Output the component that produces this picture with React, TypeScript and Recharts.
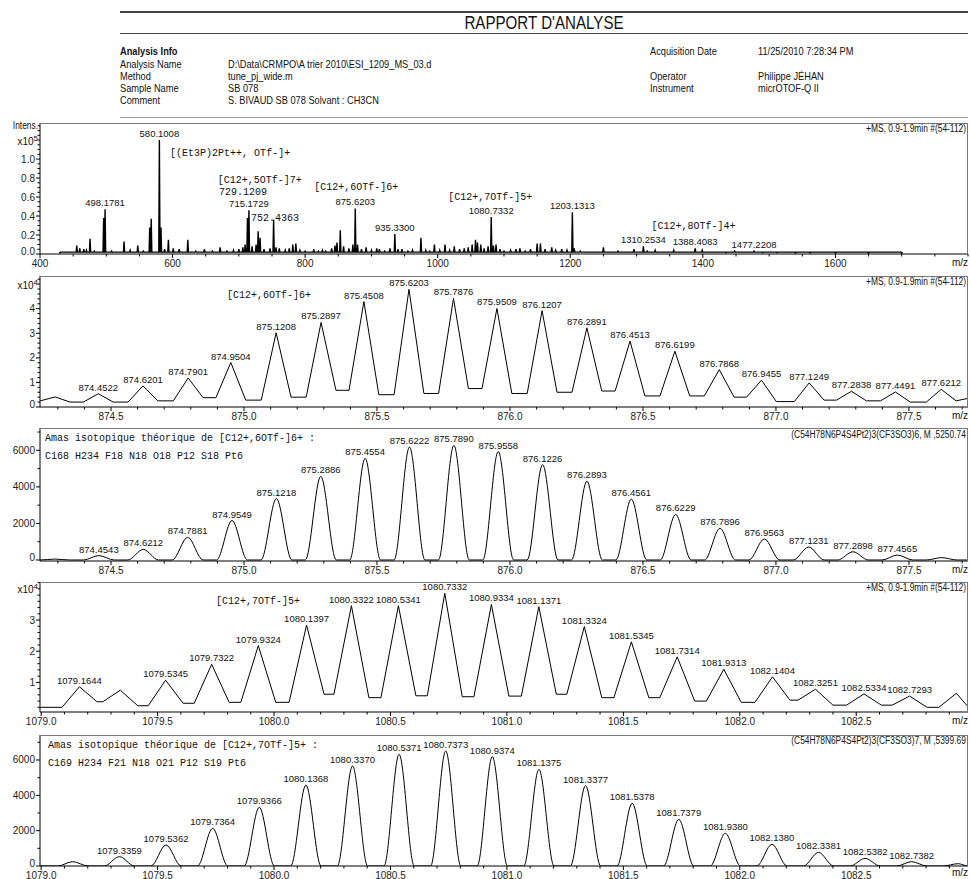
import React from 'react';
import { ComposedChart, Line, Scatter, XAxis, YAxis } from 'recharts';

const SANS = '"Liberation Sans", Arial, sans-serif';
const MONO = '"Liberation Mono", "Courier New", monospace';

// ---------------- Header ----------------
const infoLeft: [string, string][] = [
  ['Analysis Name', 'D:\\Data\\CRMPO\\A trier 2010\\ESI_1209_MS_03.d'],
  ['Method', 'tune_pj_wide.m'],
  ['Sample Name', 'SB 078'],
  ['Comment', 'S. BIVAUD SB 078 Solvant : CH3CN'],
];
const infoRight: [string, string, number][] = [
  ['Acquisition Date', '11/25/2010 7:28:34 PM', 0],
  ['Operator', 'Philippe JÉHAN', 2],
  ['Instrument', 'micrOTOF-Q II', 3],
];

// ---------------- Panel 1 : full spectrum (x10^5) ----------------
const surveyMz = [
  430, 455.5, 460, 466, 470, 475.5, 482, 496, 498.1781, 508, 515, 526.8, 536, 547.5, 556,
  565.5, 567.8, 580.1008, 582.5, 588, 593.7, 601, 610, 623, 635, 648, 660, 671.7, 682, 691.8,
  700, 706, 709.5, 713, 715.1729, 720, 726, 729.1209, 732, 738, 747, 752.4363, 756, 761, 770,
  776, 781.4, 786, 792, 800, 813, 820, 826, 831, 840, 845, 848, 853, 858, 866, 872, 875.6203,
  879, 885, 892, 900, 908, 912, 920, 928, 935.33, 940, 946, 955, 962, 974.7, 982, 988, 995,
  1003, 1011, 1018, 1025, 1033, 1040, 1046, 1052, 1057, 1060, 1065, 1070, 1076, 1080.7332,
  1084, 1088, 1094, 1100, 1110, 1118, 1124, 1132, 1140, 1150, 1155, 1162, 1172, 1178, 1187,
  1195, 1203.1313, 1206, 1215, 1225, 1235, 1250, 1260, 1272, 1283, 1296, 1310.2534, 1316,
  1328, 1340, 1356, 1365, 1376, 1388.4083, 1399, 1410, 1425, 1435, 1448, 1462, 1477.2208,
  1490, 1512, 1540, 1562, 1600, 1650, 1700,
];
const surveyInt = [
  0.012, 0.09, 0.06, 0.05, 0.04, 0.16, 0.03, 0.38, 0.47, 0.03, 0.02, 0.13, 0.04, 0.09, 0.03,
  0.28, 0.37, 1.2, 0.28, 0.05, 0.15, 0.06, 0.05, 0.15, 0.03, 0.05, 0.03, 0.07, 0.03, 0.04,
  0.05, 0.07, 0.1, 0.38, 0.46, 0.08, 0.1, 0.24, 0.17, 0.05, 0.06, 0.36, 0.07, 0.06, 0.04,
  0.06, 0.1, 0.11, 0.04, 0.03, 0.05, 0.03, 0.04, 0.03, 0.06, 0.09, 0.12, 0.25, 0.08, 0.06, 0.1, 0.48,
  0.1, 0.05, 0.07, 0.04, 0.06, 0.05, 0.03, 0.06, 0.21, 0.05, 0.05, 0.03, 0.04, 0.17, 0.04, 0.03, 0.1,
  0.04, 0.1, 0.04, 0.08, 0.05, 0.06, 0.07, 0.1, 0.15, 0.12, 0.1, 0.06, 0.08, 0.39,
  0.09, 0.1, 0.05, 0.03, 0.04, 0.05, 0.06, 0.03, 0.05, 0.11, 0.11, 0.05, 0.07, 0.04, 0.05,
  0.04, 0.44, 0.06, 0.03, 0.02, 0.02, 0.07, 0.02, 0.03, 0.02, 0.05, 0.08, 0.03,
  0.04, 0.02, 0.04, 0.02, 0.02, 0.06, 0.04, 0.02, 0.02, 0.015, 0.03, 0.02, 0.03,
  0.015, 0.015, 0.01, 0.01, 0.008, 0.006, 0.005,
];
const surveyLabelMz = [498.1781, 580.1008, 715.1729, 875.6203, 935.33, 1080.7332, 1203.1313, 1310.2534, 1388.4083, 1477.2208];
const surveyNotes = ['[(Et3P)2Pt++, OTf-]+', '[C12+,5OTf-]7+', '729.1209', '752.4363', '[C12+,6OTf-]6+', '[C12+,7OTf-]5+', '[C12+,8OTf-]4+'];
const surveyNoteMz = [596.3, 668, 670, 718.5, 813.6, 1016, 1322.4];
const surveyNoteInt = [1.034, 0.745, 0.62, 0.346, 0.672, 0.572, 0.268];
const surveyXTicks = [400, 600, 800, 1000, 1200, 1400, 1600];
const surveyYTicks = [0, 0.2, 0.4, 0.6, 0.8, 1.0];

// ---------------- Panel 2 : measured 6+ cluster (x10^4) ----------------
const exp6Mz = [874.29, 874.4522, 874.6201, 874.7901, 874.9504, 875.1208, 875.2897, 875.4508, 875.6203, 875.7876, 875.9509, 876.1207, 876.2891, 876.4513, 876.6199, 876.7868, 876.9455, 877.1249, 877.2838, 877.4491, 877.6212];
const exp6Int = [0.41, 0.54, 0.86, 1.18, 1.81, 3.02, 3.44, 4.29, 4.79, 4.42, 4.01, 3.92, 3.22, 2.68, 2.27, 1.52, 1.09, 0.98, 0.64, 0.61, 0.72];
const exp6Valleys = [0.25, 0.2, 0.2, 0.25, 0.38, 0.28, 0.4, 0.68, 0.5, 0.55, 0.75, 0.55, 0.6, 0.65, 0.45, 0.45, 0.4, 0.22, 0.28, 0.25, 0.2, 0.25];
const exp6Edges = [0.25, 0.35];
const exp6Labels = ['', '874.4522', '874.6201', '874.7901', '874.9504', '875.1208', '875.2897', '875.4508', '875.6203', '875.7876', '875.9509', '876.1207', '876.2891', '876.4513', '876.6199', '876.7868', '876.9455', '877.1249', '877.2838', '877.4491', '877.6212'];
const exp6Note = '[C12+,6OTf-]6+';
const exp6NoteMz = 874.936;
const exp6NoteInt = 4.45;
const cluster6XTicks = [874.5, 875.0, 875.5, 876.0, 876.5, 877.0, 877.5];
const exp6YTicks = [0, 1, 2, 3, 4];

// ---------------- Panel 3 : theoretical 6+ cluster ----------------
const th6Mz = [874.288, 874.4543, 874.6212, 874.7881, 874.9549, 875.1218, 875.2886, 875.4554, 875.6222, 875.789, 875.9558, 876.1226, 876.2893, 876.4561, 876.6229, 876.7896, 876.9563, 877.1231, 877.2898, 877.4565, 877.623];
const th6Int = [50, 240, 580, 1240, 2160, 3360, 4580, 5560, 6180, 6270, 5930, 5220, 4310, 3330, 2490, 1730, 1150, 710, 450, 270, 130];
const th6Labels = ['', '874.4543', '874.6212', '874.7881', '874.9549', '875.1218', '875.2886', '875.4554', '875.6222', '875.7890', '875.9558', '876.1226', '876.2893', '876.4561', '876.6229', '876.7896', '876.9563', '877.1231', '877.2898', '877.4565', ''];
const th6Title = 'Amas isotopique théorique de [C12+,6OTf-]6+ :';
const th6Formula = 'C168 H234 F18 N18 O18 P12 S18 Pt6';
const th6Info = '(C54H78N6P4S4Pt2)3(CF3SO3)6, M ,5250.74';
const thYTicks = [0, 2000, 4000, 6000];

// ---------------- Panel 4 : measured 5+ cluster (x10^4) ----------------
const exp5Mz = [1079.1644, 1079.34, 1079.5345, 1079.7322, 1079.9324, 1080.1397, 1080.3322, 1080.5341, 1080.7332, 1080.9334, 1081.1371, 1081.3324, 1081.5345, 1081.7314, 1081.9313, 1082.1404, 1082.3251, 1082.5334, 1082.7293, 1082.93];
const exp5Int = [0.86, 0.75, 1.07, 1.58, 2.18, 2.84, 3.46, 3.46, 3.86, 3.5, 3.43, 2.79, 2.3, 1.82, 1.42, 1.18, 0.78, 0.63, 0.56, 0.65];
const exp5Valleys = [0.2, 0.38, 0.25, 0.33, 0.36, 0.36, 0.62, 0.51, 0.57, 0.54, 0.56, 0.62, 0.51, 0.51, 0.4, 0.36, 0.43, 0.27, 0.27, 0.2, 0.22];
const exp5Edges = [0.2, 0.22];
const exp5Labels = ['1079.1644', '', '1079.5345', '1079.7322', '1079.9324', '1080.1397', '1080.3322', '1080.5341', '1080.7332', '1080.9334', '1081.1371', '1081.3324', '1081.5345', '1081.7314', '1081.9313', '1082.1404', '1082.3251', '1082.5334', '1082.7293', ''];
const exp5Note = '[C12+,7OTf-]5+';
const exp5NoteMz = 1079.751;
const exp5NoteInt = 3.53;
const cluster5XTicks = [1079.0, 1079.5, 1080.0, 1080.5, 1081.0, 1081.5, 1082.0, 1082.5];
const exp5YTicks = [1, 2, 3];

// ---------------- Panel 5 : theoretical 5+ cluster ----------------
const th5Mz = [1079.136, 1079.3359, 1079.5362, 1079.7364, 1079.9366, 1080.1368, 1080.337, 1080.5371, 1080.7373, 1080.9374, 1081.1375, 1081.3377, 1081.5378, 1081.7379, 1081.938, 1082.138, 1082.3381, 1082.5382, 1082.7382, 1082.938];
const th5Int = [245, 528, 1190, 2130, 3320, 4585, 5660, 6320, 6510, 6190, 5470, 4550, 3550, 2640, 1850, 1230, 770, 430, 245, 130];
const th5Labels = ['', '1079.3359', '1079.5362', '1079.7364', '1079.9366', '1080.1368', '1080.3370', '1080.5371', '1080.7373', '1080.9374', '1081.1375', '1081.3377', '1081.5378', '1081.7379', '1081.9380', '1082.1380', '1082.3381', '1082.5382', '1082.7382', ''];
const th5Title = 'Amas isotopique théorique de [C12+,7OTf-]5+ :';
const th5Formula = 'C169 H234 F21 N18 O21 P12 S19 Pt6';
const th5Info = '(C54H78N6P4S4Pt2)3(CF3SO3)7, M ,5399.69';

const msInfo = '+MS, 0.9-1.9min #(54-112)';

// ---------------- helpers ----------------
type Pt = { x: number; y: number; label?: string; mono?: boolean };

function stickProfile(mz: number[], inten: number[], base: number, hw: number): Pt[] {
  const pts: Pt[] = [];
  mz.forEach((m, i) => {
    pts.push({ x: m - hw, y: base }, { x: m, y: inten[i] }, { x: m + hw, y: base });
  });
  return pts;
}

function triProfile(mz: number[], inten: number[], valleys: number[], edges: number[], hw: number, dom: [number, number]): Pt[] {
  const pts: Pt[] = [{ x: dom[0], y: edges[0] }];
  mz.forEach((m, i) => {
    pts.push({ x: m - hw, y: valleys[i] }, { x: m, y: inten[i] }, { x: m + hw, y: valleys[i + 1] });
  });
  pts.push({ x: dom[1], y: edges[1] });
  return pts.sort((a, b) => a.x - b.x);
}

function bellProfile(mz: number[], inten: number[], hw: number, dom: [number, number]): Pt[] {
  const pts: Pt[] = [{ x: dom[0], y: 0 }];
  mz.forEach((m, i) => {
    pts.push({ x: m - hw, y: 0 }, { x: m, y: inten[i] }, { x: m + hw, y: 0 });
  });
  pts.push({ x: dom[1], y: 0 });
  return pts.sort((a, b) => a.x - b.x);
}

function peakLabels(mz: number[], inten: number[], labels: string[]): Pt[] {
  return mz.map((m, i) => ({ x: m, y: inten[i], label: labels[i] })).filter((p) => p.label);
}

function range(a: number, b: number, step: number): number[] {
  const out: number[] = [];
  const n = Math.round((b - a) / step);
  for (let i = 0; i <= n; i++) out.push(Math.round((a + i * step) * 10000) / 10000);
  return out;
}

function mergeTicks(major: number[], minor: number[]): number[] {
  const all = [...major];
  minor.forEach((v) => {
    if (!all.some((m) => Math.abs(m - v) < 1e-6)) all.push(v);
  });
  return all.sort((a, b) => a - b);
}

const isIn = (arr: number[], v: number) => arr.some((m) => Math.abs(m - v) < 1e-6);

const makeXTick = (major: number[], fmt: (v: number) => string) => (props: any) => {
  const { x, y, payload } = props;
  const v = payload.value;
  const maj = isIn(major, v);
  return (
    <g>
      <line x1={x} x2={x} y1={y} y2={y + (maj ? 4 : 2.5)} stroke="#000" strokeWidth={1} />
      {maj && (
        <text x={x} y={y + 12.5} textAnchor="middle" fontSize={10} fontFamily={SANS} fill="#222">
          {fmt(v)}
        </text>
      )}
    </g>
  );
};

const makeYTick = (major: number[], fmt: (v: number) => string, lowest: number) => (props: any) => {
  const { x, y, payload } = props;
  const v = payload.value;
  const maj = isIn(major, v);
  const dy = Math.abs(v - lowest) < 1e-6 ? 1 : 3.5;
  return (
    <g>
      <line x1={x - (maj ? 4 : 2.5)} x2={x} y1={y} y2={y} stroke="#000" strokeWidth={1} />
      {maj && (
        <text x={x - 5} y={y + dy} textAnchor="end" fontSize={10} fontFamily={SANS} fill="#222">
          {fmt(v)}
        </text>
      )}
    </g>
  );
};

const LabelShape = (props: any) => {
  const { cx, cy, payload } = props;
  if (cx == null || cy == null || !payload?.label) return <g />;
  if (payload.mono) {
    return (
      <text x={cx} y={cy} textAnchor="start" fontSize={10} fontFamily={MONO} fill="#111">
        {payload.label}
      </text>
    );
  }
  return (
    <text x={cx} y={cy - 3} textAnchor="middle" fontSize={9.5} fontFamily={SANS} fill="#111">
      {payload.label}
    </text>
  );
};

type PanelProps = {
  top: number;
  bottom: number;
  xDom: [number, number];
  yDom: [number, number];
  xTicks: number[];
  xMinor: number[];
  xFmt: (v: number) => string;
  yTicks: number[];
  yMinor: number[];
  yFmt: (v: number) => string;
  profile: Pt[];
  curve: 'linear' | 'monotone';
  labels: Pt[];
  strokeWidth?: number;
};

const PAD_T = 12;
const PAD_B = 24;

function Panel(p: PanelProps) {
  const h = p.bottom - p.top + PAD_T + PAD_B;
  return (
    <div style={{ position: 'absolute', left: 0, top: p.top - PAD_T }}>
      <ComposedChart width={970} height={h} margin={{ top: PAD_T, right: 2, bottom: PAD_B - 1, left: 39 }}>
        <XAxis
          type="number"
          dataKey="x"
          domain={p.xDom}
          allowDataOverflow
          ticks={mergeTicks(p.xTicks, p.xMinor)}
          interval={0}
          tick={makeXTick(p.xTicks, p.xFmt)}
          tickLine={false}
          tickSize={0}
          tickMargin={0}
          height={1}
          axisLine={{ stroke: '#000' }}
        />
        <YAxis
          type="number"
          dataKey="y"
          domain={p.yDom}
          allowDataOverflow
          ticks={mergeTicks(p.yTicks, p.yMinor)}
          interval={0}
          tick={makeYTick(p.yTicks, p.yFmt, p.yTicks[0] <= p.yDom[0] + 1e-6 || p.yTicks[0] === 0 ? p.yTicks[0] : NaN)}
          tickLine={false}
          tickSize={0}
          tickMargin={0}
          width={1}
          axisLine={{ stroke: '#000' }}
        />
        <Line
          data={p.profile}
          dataKey="y"
          type={p.curve}
          stroke="#000"
          strokeWidth={p.strokeWidth ?? 1}
          dot={false}
          activeDot={false}
          isAnimationActive={false}
        />
        <Scatter data={p.labels} dataKey="y" shape={LabelShape} isAnimationActive={false} />
      </ComposedChart>
      <div
        style={{
          position: 'absolute',
          left: 40,
          top: PAD_T,
          width: 970 - 42,
          height: p.bottom - p.top,
          borderTop: '1px solid #777',
          borderRight: '1px solid #777',
          boxSizing: 'border-box',
          pointerEvents: 'none',
        }}
      />
    </div>
  );
}

function Txt(props: {
  x: number;
  y: number;
  children: React.ReactNode;
  size?: number;
  font?: string;
  align?: 'left' | 'right';
  bold?: boolean;
  narrow?: boolean;
}) {
  const size = props.size ?? 10;
  const style: React.CSSProperties = {
    position: 'absolute',
    top: props.y - size * 0.6,
    fontSize: size,
    lineHeight: `${size * 1.2}px`,
    fontFamily: props.font ?? SANS,
    fontWeight: props.bold ? 'bold' : 'normal',
    color: '#111',
    whiteSpace: 'nowrap',
  };
  if (props.narrow) {
    style.transform = 'scaleX(0.84)';
    style.transformOrigin = props.align === 'right' ? 'right center' : 'left center';
  }
  if (props.align === 'right') style.right = 970 - props.x;
  else style.left = props.x;
  return <div style={style}>{props.children}</div>;
}

export default function App() {
  const d1: [number, number] = [400, 1800];
  const d6: [number, number] = [874.233, 877.722];
  const d5: [number, number] = [1078.995, 1082.98];

  const surveyLabels: Pt[] = [
    ...surveyLabelMz.map((m) => {
      const idx = surveyMz.findIndex((v) => Math.abs(v - m) < 1e-6);
      return { x: m, y: surveyInt[idx], label: m.toFixed(4) };
    }),
    ...surveyNotes.map((t, i) => ({ x: surveyNoteMz[i], y: surveyNoteInt[i], label: t, mono: true })),
  ];

  const exp6LabelPts: Pt[] = [
    ...peakLabels(exp6Mz, exp6Int, exp6Labels),
    { x: exp6NoteMz, y: exp6NoteInt, label: exp6Note, mono: true },
  ];
  const exp5LabelPts: Pt[] = [
    ...peakLabels(exp5Mz, exp5Int, exp5Labels),
    { x: exp5NoteMz, y: exp5NoteInt, label: exp5Note, mono: true },
  ];

  const f0 = (v: number) => v.toFixed(0);
  const f1 = (v: number) => v.toFixed(1);

  return (
    <div style={{ position: 'absolute', left: 0, top: 0, width: 970, height: 879, background: '#fff', overflow: 'hidden', color: '#111' }}>
      {/* Header */}
      <div style={{ position: 'absolute', left: 120, top: 11, width: 848, borderTop: '2px solid #444' }} />
      <div
        style={{
          position: 'absolute',
          left: 120,
          top: 13,
          width: 848,
          textAlign: 'center',
          fontFamily: SANS,
          fontSize: 18,
          lineHeight: '20px',
          color: '#111',
          transform: 'scaleX(0.84)',
          transformOrigin: '424px 10px',
        }}
      >
        RAPPORT D'ANALYSE
      </div>
      <div style={{ position: 'absolute', left: 120, top: 33, width: 848, borderTop: '1px solid #444' }} />
      <Txt x={120} y={52} size={11} narrow bold>
        Analysis Info
      </Txt>
      {infoLeft.map(([k, v], i) => (
        <React.Fragment key={k}>
          <Txt x={120} y={65 + i * 12} size={11} narrow>
            {k}
          </Txt>
          <Txt x={228} y={65 + i * 12} size={11} narrow>
            {v}
          </Txt>
        </React.Fragment>
      ))}
      {infoRight.map(([k, v, r]) => (
        <React.Fragment key={k}>
          <Txt x={650} y={r === 0 ? 52 : 53 + r * 12} size={11} narrow>
            {k}
          </Txt>
          <Txt x={758} y={r === 0 ? 52 : 53 + r * 12} size={11} narrow>
            {v}
          </Txt>
        </React.Fragment>
      ))}
      <div style={{ position: 'absolute', left: 120, top: 117, width: 848, borderTop: '1px solid #999' }} />

      {/* Panel 1 */}
      <Panel
        top={123}
        bottom={254}
        xDom={d1}
        yDom={[0, 1.38]}
        xTicks={surveyXTicks}
        xMinor={range(400, 1800, 50)}
        xFmt={f0}
        yTicks={surveyYTicks}
        yMinor={range(0, 1.35, 0.05)}
        yFmt={f1}
        profile={stickProfile(surveyMz, surveyInt, 0.02, 0.9)}
        curve="linear"
        labels={surveyLabels}
        strokeWidth={1.4}
      />
      <Txt x={38} y={126} align="right" narrow>Intens.</Txt>
      <Txt x={38} y={139} align="right">
        x10<sup style={{ fontSize: 8 }}>5</sup>
      </Txt>
      <Txt x={966} y={129} align="right" narrow>{msInfo}</Txt>
      <Txt x={968} y={263} align="right">m/z</Txt>

      {/* Panel 2 */}
      <Panel
        top={276}
        bottom={407}
        xDom={d6}
        yDom={[0, 5.33]}
        xTicks={cluster6XTicks}
        xMinor={range(874.3, 877.7, 0.1)}
        xFmt={f1}
        yTicks={exp6YTicks}
        yMinor={range(0, 5.2, 0.2)}
        yFmt={f0}
        profile={triProfile(exp6Mz, exp6Int, exp6Valleys, exp6Edges, 0.056, d6)}
        curve="linear"
        labels={exp6LabelPts}
      />
      <Txt x={38} y={283} align="right">
        x10<sup style={{ fontSize: 8 }}>4</sup>
      </Txt>
      <Txt x={966} y={282} align="right" narrow>{msInfo}</Txt>
      <Txt x={968} y={416} align="right">m/z</Txt>

      {/* Panel 3 */}
      <Panel
        top={428}
        bottom={561}
        xDom={d6}
        yDom={[-55, 7220]}
        xTicks={cluster6XTicks}
        xMinor={range(874.3, 877.7, 0.1)}
        xFmt={f1}
        yTicks={thYTicks}
        yMinor={[1000, 3000, 5000, 7000]}
        yFmt={f0}
        profile={bellProfile(th6Mz, th6Int, 0.058, d6)}
        curve="monotone"
        labels={peakLabels(th6Mz, th6Int, th6Labels)}
      />
      <Txt x={45} y={439} font={MONO}>{th6Title}</Txt>
      <Txt x={45} y={457} font={MONO}>{th6Formula}</Txt>
      <Txt x={966} y={435} align="right" narrow>{th6Info}</Txt>
      <Txt x={968} y={570} align="right">m/z</Txt>

      {/* Panel 4 */}
      <Panel
        top={582}
        bottom={712}
        xDom={d5}
        yDom={[0.05, 4.22]}
        xTicks={cluster5XTicks}
        xMinor={range(1079.0, 1082.9, 0.1)}
        xFmt={f1}
        yTicks={exp5YTicks}
        yMinor={range(0.2, 4.2, 0.2)}
        yFmt={f0}
        profile={triProfile(exp5Mz, exp5Int, exp5Valleys, exp5Edges, 0.075, d5)}
        curve="linear"
        labels={exp5LabelPts}
      />
      <Txt x={38} y={587} align="right">
        x10<sup style={{ fontSize: 8 }}>4</sup>
      </Txt>
      <Txt x={966} y={588} align="right" narrow>{msInfo}</Txt>
      <Txt x={968} y={721} align="right">m/z</Txt>

      {/* Panel 5 */}
      <Panel
        top={735}
        bottom={866}
        xDom={d5}
        yDom={[0, 7415]}
        xTicks={cluster5XTicks}
        xMinor={range(1079.0, 1082.9, 0.1)}
        xFmt={f1}
        yTicks={thYTicks}
        yMinor={[1000, 3000, 5000, 7000]}
        yFmt={f0}
        profile={bellProfile(th5Mz, th5Int, 0.065, d5)}
        curve="monotone"
        labels={peakLabels(th5Mz, th5Int, th5Labels)}
      />
      <Txt x={48} y={746} font={MONO}>{th5Title}</Txt>
      <Txt x={48} y={764} font={MONO}>{th5Formula}</Txt>
      <Txt x={966} y={741} align="right" narrow>{th5Info}</Txt>
      <Txt x={968} y={873} align="right">m/z</Txt>
    </div>
  );
}
